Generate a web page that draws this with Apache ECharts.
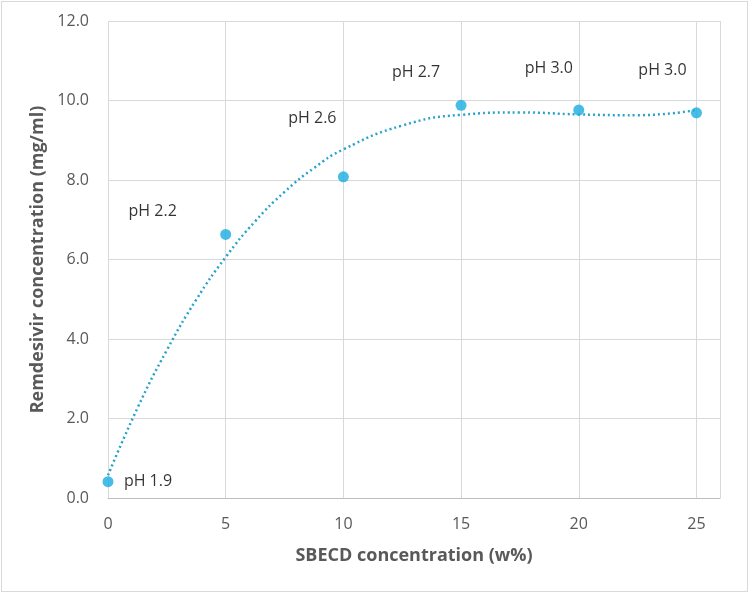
<!DOCTYPE html>
<html><head><meta charset="utf-8">
<script src="https://cdn.jsdelivr.net/npm/echarts@6/dist/echarts.min.js"></script>
<style>html,body{margin:0;padding:0;background:#fff}#c{width:750px;height:593px}
#frame{position:absolute;left:1px;top:1px;width:745px;height:589px;border:1px solid #d9d9d9;pointer-events:none}</style>
</head><body><div id="c"></div><div id="frame"></div>
<script>
// Data
const sbecd = [0, 5, 10, 15, 20, 25];
const remdesivir = [0.41, 6.63, 8.08, 9.88, 9.76, 9.69];
const phLabels = ['pH 1.9', 'pH 2.2', 'pH 2.6', 'pH 2.7', 'pH 3.0', 'pH 3.0'];
// Trendline (poly order 3)
const trendX = [0, 1.25, 2.5, 3.75, 5, 6.25, 7.5, 8.75, 10, 12.5, 15, 17.5, 20, 22.5, 25];
const trendY = [0.57, 2.26, 3.72, 4.99, 6.06, 6.96, 7.70, 8.30, 8.77, 9.37, 9.64, 9.70, 9.65, 9.63, 9.76];
const xTitle = 'SBECD concentration (w%)';
const yTitle = 'Remdesivir concentration (mg/ml)';

// Layout-only: label offsets in pixels relative to each point
const labelOffsets = [[40, 0], [-73, -23], [-31, -58], [-45, -33], [-30, -42], [-34, -42]];

const chart = echarts.init(document.getElementById('c'));
const font = '"Open Sans", sans-serif';
chart.setOption({
  animation: false,
  grid: {left: 108, right: 30, top: 21, bottom: 95},
  xAxis: {
    type: 'value', min: 0, max: 26, interval: 5,
    name: xTitle, nameLocation: 'middle', nameGap: 49,
    nameTextStyle: {color: '#595959', fontSize: 18, fontWeight: 'bold', fontFamily: font},
    axisLine: {show: true, lineStyle: {color: '#bfbfbf', width: 1}},
    axisTick: {show: false},
    axisLabel: {color: '#595959', fontSize: 16, margin: 18, fontFamily: font, showMaxLabel: false},
    splitLine: {show: true, lineStyle: {color: '#d9d9d9', width: 1}}
  },
  yAxis: {
    type: 'value', min: 0, max: 12, interval: 2,
    name: yTitle, nameLocation: 'middle', nameGap: 59, nameRotate: 90,
    nameTextStyle: {color: '#595959', fontSize: 18, fontWeight: 'bold', fontFamily: font},
    axisLine: {show: false},
    axisTick: {show: false},
    axisLabel: {color: '#595959', fontSize: 16, margin: 19, fontFamily: font,
      formatter: v => v.toFixed(1)},
    splitLine: {show: true, lineStyle: {color: '#d9d9d9', width: 1}}
  },
  series: [
    {
      type: 'line', smooth: true, symbol: 'none', silent: true,
      data: trendX.map((x, i) => [x, trendY[i]]),
      lineStyle: {color: '#2aa3cb', width: 2.5, type: [2, 3]},
      z: 2
    },
    {
      type: 'scatter', symbol: 'circle', symbolSize: 11,
      itemStyle: {color: '#18ade0'},
      data: sbecd.map((x, i) => ({
        value: [x, remdesivir[i]],
        label: {show: true, formatter: phLabels[i], position: 'inside',
          offset: labelOffsets[i], color: '#000', fontSize: 16, fontFamily: font}
      })),
      z: 3
    }
  ]
});
</script></body></html>
